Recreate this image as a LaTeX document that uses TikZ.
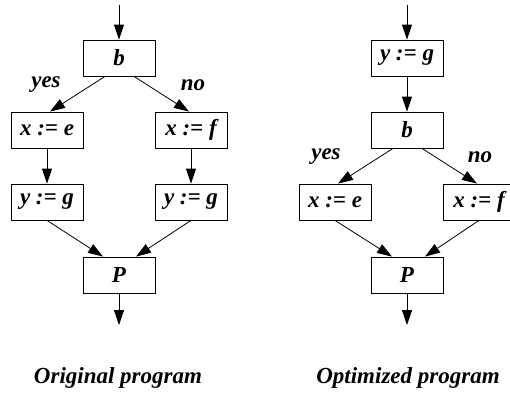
\documentclass[tikz,border=0pt]{standalone}
\usepackage{fontspec}
\setmainfont{Liberation Serif}
\usetikzlibrary{arrows.meta}
\begin{document}
\begin{tikzpicture}[x=1pt,y=-1pt,line width=0.8pt,
  font=\fontsize{23}{27}\selectfont\bfseries\itshape,
  blk/.style={draw,minimum width=72pt,minimum height=36pt,inner sep=0pt},
  flow/.style={-{Triangle[length=15pt,width=10pt]}}]
  \useasboundingbox (0,0) rectangle (510,394);
  % original program:
  \coordinate (in1) at (119,5);
  \node[blk] (b1) at (119,58) {b};
  \node[blk] (xe1) at (47,130) {x := e};
  \node[blk] (xf1) at (191,130) {x := f};
  \node[blk] (ygl) at (47,202) {y := g};
  \node[blk] (ygr) at (191,202) {y := g};
  \node[blk] (p1) at (119,275) {P};
  \coordinate (out1) at (119,325);
  \node (yes1) at (46,85) {yes};
  \node (no1) at (193,85) {no};
  \draw[flow] (in1) -- (b1);
  \draw[flow] ([xshift=-14pt]b1.south) -- ([xshift=3pt]xe1.north);
  \draw[flow] ([xshift=15pt]b1.south) -- ([xshift=-2pt]xf1.north);
  \draw[flow] (xe1) -- (ygl);
  \draw[flow] (xf1) -- (ygr);
  \draw[flow] (ygl.south) -- ([xshift=-16pt]p1.north);
  \draw[flow] (ygr.south) -- ([xshift=17pt]p1.north);
  \draw[flow] (p1) -- (out1);
  % optimized program:
  \coordinate (in2) at (407,5);
  \node[blk] (yg2) at (407,58) {y := g};
  \node[blk] (b2) at (407,130) {b};
  \node[blk] (xe2) at (335,202) {x := e};
  \node[blk] (xf2) at (479,202) {x := f};
  \node[blk] (p2) at (407,275) {P};
  \coordinate (out2) at (407,325);
  \node (yes2) at (326,157) {yes};
  \node (no2) at (480,157) {no};
  \draw[flow] (in2) -- (yg2);
  \draw[flow] (yg2) -- (b2);
  \draw[flow] ([xshift=-14pt]b2.south) -- ([xshift=3pt]xe2.north);
  \draw[flow] ([xshift=15pt]b2.south) -- ([xshift=-2pt]xf2.north);
  \draw[flow] (xe2.south) -- ([xshift=-15pt]p2.north);
  \draw[flow] (xf2.south) -- ([xshift=18pt]p2.north);
  \draw[flow] (p2) -- (out2);
  % captions:
  \node (cap1) at (118,378) {Original program};
  \node (cap2) at (408,378) {Optimized program};
\end{tikzpicture}
\end{document}
